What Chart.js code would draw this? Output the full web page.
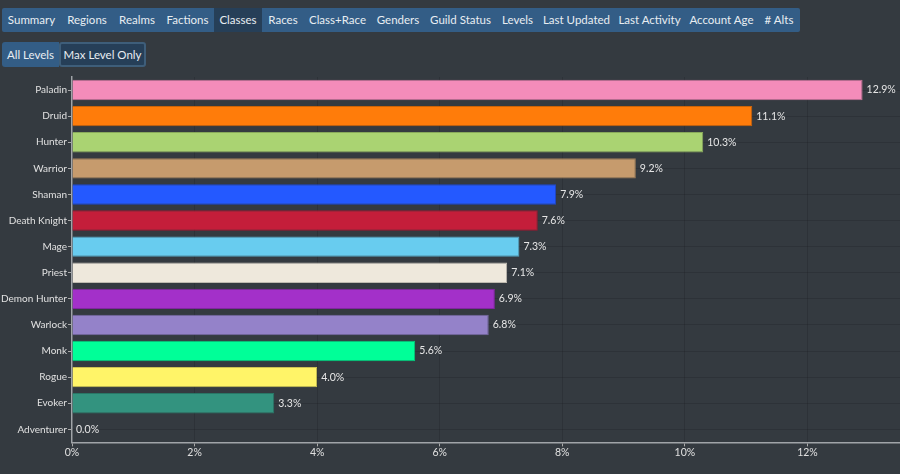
<!DOCTYPE html>
<html><head><meta charset="utf-8">
<script src="https://cdn.jsdelivr.net/npm/chart.js@4.4.1/dist/chart.umd.min.js"></script>
<style>
html,body{margin:0;padding:0;background:#343a40;width:900px;height:474px;overflow:hidden;font-family:Lato,"Noto Sans",sans-serif;}
#nav{position:absolute;left:2px;top:8px;height:24px;display:flex;background:#335d86;border-radius:2px;}
#nav div{line-height:24px;font-size:11.5px;color:#e8edf2;white-space:nowrap;text-align:center;}
#nav div.act{background:#263f58;}
#lv{position:absolute;left:2px;top:42px;height:25px;display:flex;}
#lv div{line-height:25px;font-size:11.5px;color:#e8edf2;background:#335d86;text-align:center;box-sizing:border-box;}
#lv div.act{background:#263f58;border:2px solid #3e5e7a;line-height:21px;border-radius:3px;}
#wrap{position:absolute;left:0;top:70px;width:945px;height:404px;}
</style></head>
<body>
<div id="nav"></div>
<div id="lv"><div style="border-radius:3px 0 0 3px;width:57px">All Levels</div><div class="act" style="width:87px">Max Level Only</div></div>
<div id="wrap"><canvas id="c"></canvas></div>
<script>
const navTabs = ["Summary","Regions","Realms","Factions","Classes","Races","Class+Race","Genders","Guild Status","Levels","Last Updated","Last Activity","Account Age","# Alts"];
const navWidths = [59,52,48,53,48,42,67,54,71,43,75,71,73,42];
const activeTab = "Classes";
const classes = ["Paladin","Druid","Hunter","Warrior","Shaman","Death Knight","Mage","Priest","Demon Hunter","Warlock","Monk","Rogue","Evoker","Adventurer"];
const percents = [12.9,11.1,10.3,9.2,7.9,7.6,7.3,7.1,6.9,6.8,5.6,4.0,3.3,0.0];
const colors = ["#F48CBA","#FF7C0A","#AAD372","#C69B6D","#2459FF","#C41E3A","#68CCEF","#EEE8DC","#A330C9","#9482C9","#00FF98","#FFF468","#33937F","#888888"];
const xTicks = [0,2,4,6,8,10,12,14];

const nav = document.getElementById('nav');
navTabs.forEach((t,i)=>{const d=document.createElement('div');d.textContent=t;d.style.width=navWidths[i]+'px';if(t===activeTab)d.className='act';nav.appendChild(d);});

function darken(hex,f){const n=parseInt(hex.slice(1),16);const r=(n>>16)&255,g=(n>>8)&255,b=n&255;return `rgb(${Math.round(r*f)},${Math.round(g*f)},${Math.round(b*f)})`;}

const labelPlugin = {
  id:'vals',
  afterDatasetsDraw(chart){
    const ctx=chart.ctx;const meta=chart.getDatasetMeta(0);
    ctx.save();ctx.font='10.5px Lato,"Noto Sans",sans-serif';ctx.fillStyle='#e6e6e6';ctx.textBaseline='middle';ctx.textAlign='left';
    meta.data.forEach((bar,i)=>{ctx.fillText(percents[i].toFixed(1)+'%',bar.x+4,bar.y);});
    ctx.restore();
  }
};

Chart.defaults.font.family='Lato,"Noto Sans",sans-serif';
new Chart(document.getElementById('c'),{
  type:'bar',
  data:{labels:classes,datasets:[{data:percents,backgroundColor:colors,borderColor:colors.map(c=>darken(c,0.8)),borderWidth:1,barPercentage:0.78,categoryPercentage:1}]},
  options:{
    indexAxis:'y',responsive:true,maintainAspectRatio:false,animation:false,
    layout:{padding:{top:6,right:15,bottom:15}},
    plugins:{legend:{display:false},tooltip:{enabled:false}},
    scales:{
      x:{min:0,max:14,afterBuildTicks(s){s.ticks=xTicks.map(v=>({value:v}));},
        ticks:{color:'#e0e0e0',font:{size:10.5},callback:v=>v+'%',padding:0},
        grid:{color:'rgba(0,0,0,0.12)',tickColor:'#aaaaaa',tickLength:4},
        border:{color:'#a0a4a8',width:1.5}},
      y:{afterFit(s){s.width=72;},
        ticks:{color:'#e0e0e0',font:{size:10},padding:1},
        grid:{offset:false,color:'rgba(0,0,0,0.12)',tickColor:'#aaaaaa',tickLength:4},
        border:{color:'#a0a4a8',width:1.5}}
    }
  },
  plugins:[labelPlugin]
});
</script>
</body></html>
